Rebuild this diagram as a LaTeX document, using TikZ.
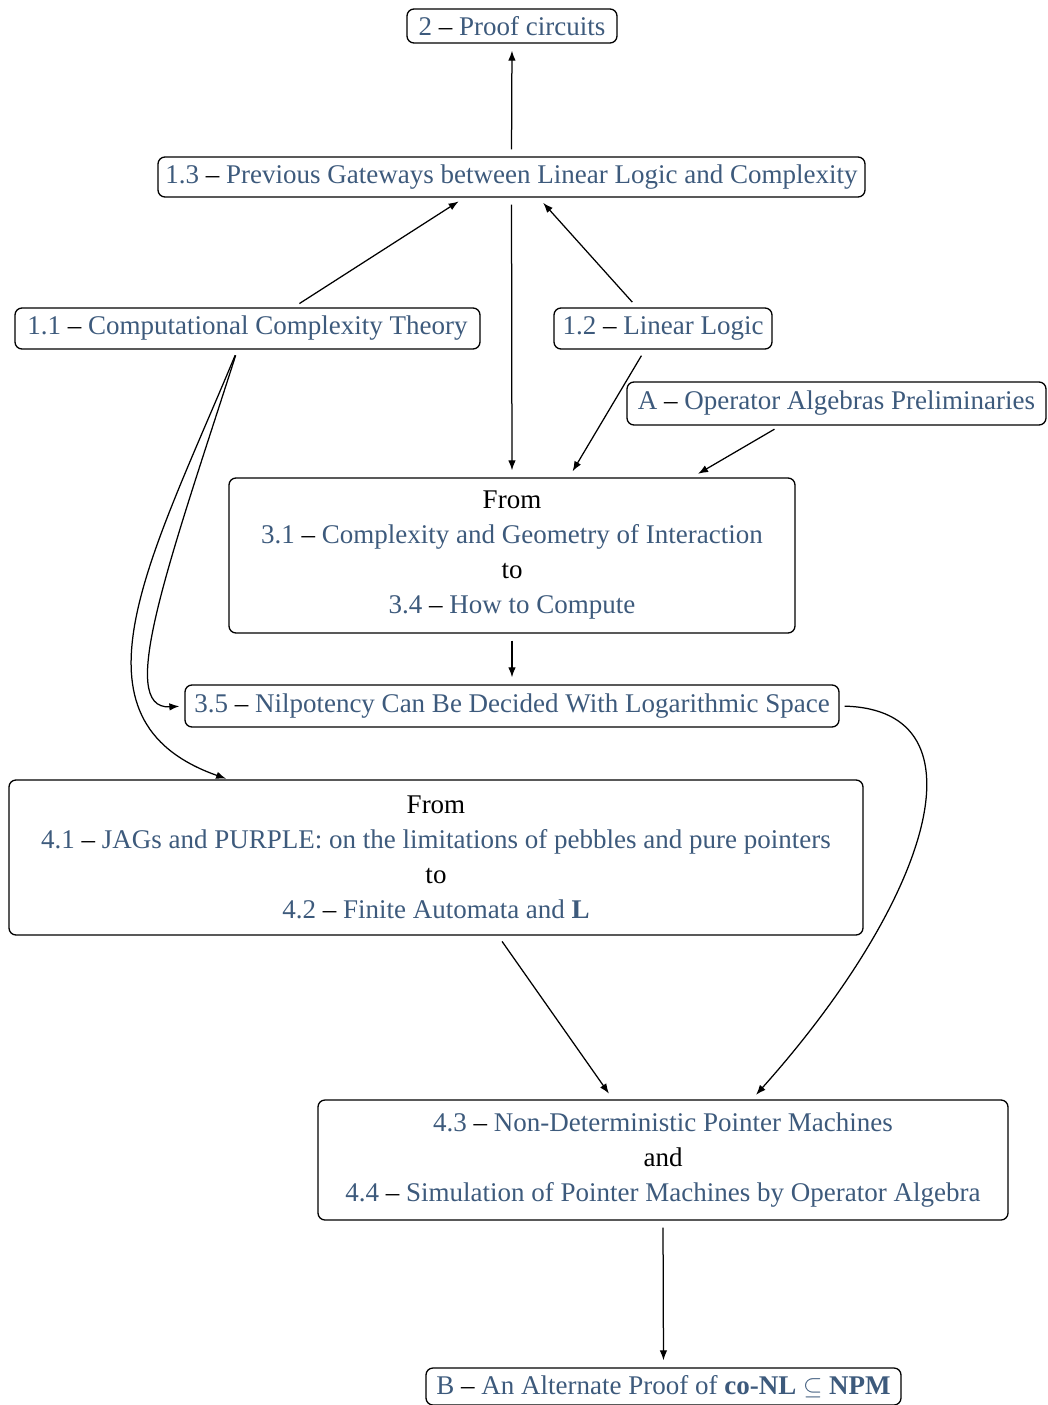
\documentclass[tikz,border=0pt]{standalone}
\usepackage{fontspec}
\setmainfont{Liberation Serif}
\usetikzlibrary{arrows.meta}
\definecolor{lk}{HTML}{3D5A7C}
\newcommand{\lnk}[2]{{\color{lk}#1} -- {\color{lk}#2}}
\begin{document}
\begin{tikzpicture}[x=1pt,y=-1pt,
  box/.style={draw, rounded corners=7pt, line width=1.3pt, inner sep=0pt, align=center,
    font=\fontsize{27}{35}\selectfont},
  arr/.style={-{Latex[length=10pt,width=7.5pt]}, line width=1.25pt, shorten <=7pt, shorten >=7pt}]
\useasboundingbox (0,0) rectangle (1047,1405);
\node[box, minimum width=210, minimum height=34] (n2) at (512,26) {\lnk{2}{Proof circuits}};
\node[box, minimum width=707, minimum height=40] (n13) at (511.5,177) {\lnk{1.3}{Previous Gateways between Linear Logic and Complexity}};
\node[box, minimum width=465, minimum height=41] (n11) at (247.5,328.5) {\lnk{1.1}{Computational Complexity Theory}};
\node[box, minimum width=218, minimum height=41] (n12) at (663,328.5) {\lnk{1.2}{Linear Logic}};
\node[box, minimum width=419, minimum height=43] (nA) at (836.5,403.5) {\lnk{A}{Operator Algebras Preliminaries}};
\node[box, minimum width=566, minimum height=155] (n3) at (512,555.5) {From\\ \lnk{3.1}{Complexity and Geometry of Interaction}\\ to\\ \lnk{3.4}{How to Compute}};
\node[box, minimum width=654, minimum height=42] (n35) at (512,706) {\lnk{3.5}{Nilpotency Can Be Decided With Logarithmic Space}};
\node[box, minimum width=854, minimum height=155] (n4) at (436,857.5) {From\\ \lnk{4.1}{JAGs and PURPLE: on the limitations of pebbles and pure pointers}\\ to\\ \lnk{4.2}{Finite Automata and \textbf{L}}};
\node[box, minimum width=690, minimum height=120] (n43) at (663,1160) {\lnk{4.3}{Non-Deterministic Pointer Machines}\\ and\\ \lnk{4.4}{Simulation of Pointer Machines by Operator Algebra}};
\node[box, minimum width=475, minimum height=37] (nB) at (663.5,1386.5) {\lnk{B}{An Alternate Proof of \textbf{co-NL} $\subseteq$ \textbf{NPM}}};

\draw[arr] (n13.north) -- (n2.south);
\draw[arr] ([xshift=46pt]n11.north) -- ([xshift=-47pt]n13.south);
\draw[arr] ([xshift=-26pt]n12.north) -- ([xshift=27pt]n13.south);
\draw[arr] (n13.south) -- (n3.north);
\draw[arr] ([xshift=-18pt]n12.south) -- ([xshift=57pt]n3.north);
\draw[arr] ([xshift=-56pt]nA.south) -- ([xshift=180pt]n3.north);
\draw[arr] (n3.south) -- (n35.north);
\draw[arr, shorten <=6pt, shorten >=2pt] ([xshift=-10pt]n11.south) .. controls (150,560) and (60,720) .. ([xshift=-208pt]n4.north);
\draw[arr, shorten <=6pt, shorten >=5pt] ([xshift=-10pt]n11.south) .. controls (170,560) and (115,710) .. (n35.west);
\draw[arr, shorten <=5pt, shorten >=6pt] (n35.east) .. controls (990,710) and (930,900) .. ([xshift=89pt]n43.north);
\draw[arr] ([xshift=62pt]n4.south) -- ([xshift=-50pt]n43.north);
\draw[arr] (n43.south) -- (nB.north);
\end{tikzpicture}
\end{document}
